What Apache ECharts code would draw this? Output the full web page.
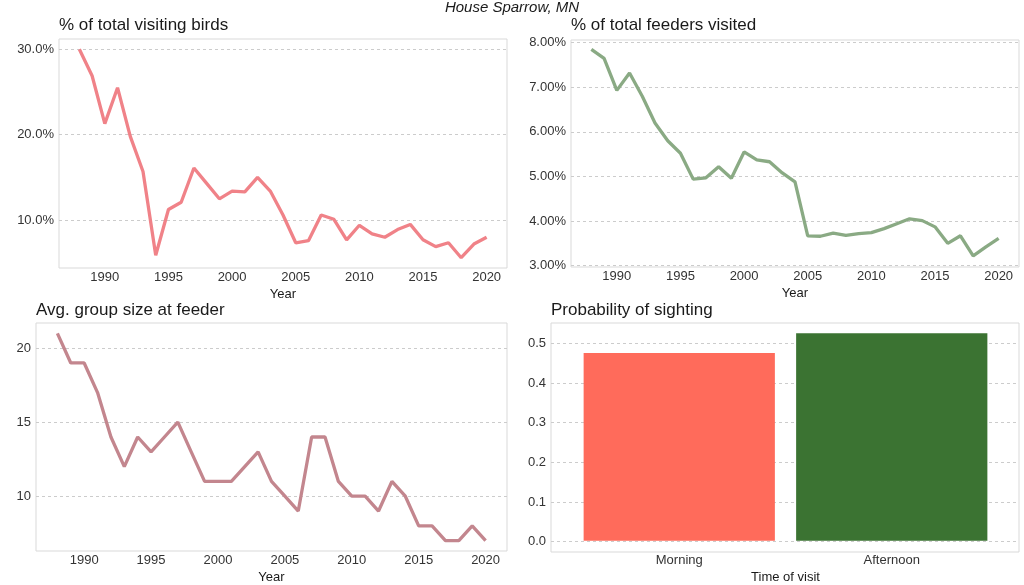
<!DOCTYPE html>
<html>
<head>
<meta charset="utf-8">
<script src="https://cdn.jsdelivr.net/npm/echarts@6/dist/echarts.min.js"></script>
<style>
  html, body { margin: 0; padding: 0; background: #fff; }
  #chart { width: 1024px; height: 585px; }
</style>
</head>
<body>
<div id="chart"></div>
<script>
// 年份
var years = [1988, 1989, 1990, 1991, 1992, 1993, 1994, 1995, 1996, 1997, 1998,
    1999, 2000, 2001, 2002, 2003, 2004, 2005, 2006, 2007, 2008, 2009, 2010,
    2011, 2012, 2013, 2014, 2015, 2016, 2017, 2018, 2019, 2020];
// % of total visiting birds
var pctBirds = [30.0, 26.9, 21.3, 25.5, 19.8, 15.7, 5.9, 11.25, 12.1, 16.1, 14.3,
    12.5, 13.4, 13.3, 15.0, 13.4, 10.6, 7.35, 7.6, 10.6, 10.1, 7.7, 9.4,
    8.4, 8.0, 8.9, 9.5, 7.7, 6.9, 7.35, 5.6, 7.2, 8.0];
// % of total feeders visited
var pctFeeders = [7.85, 7.65, 6.93, 7.32, 6.8, 6.2, 5.8, 5.52, 4.94, 4.97, 5.22,
    4.96, 5.55, 5.37, 5.33, 5.08, 4.88, 3.67, 3.66, 3.73, 3.68, 3.72, 3.74,
    3.83, 3.94, 4.05, 4.01, 3.87, 3.5, 3.67, 3.22, 3.42, 3.61];
// Avg. group size at feeder
var groupSize = [21, 19, 19, 17, 14, 12, 14, 13, 14, 15, 13,
    11, 11, 11, 12, 13, 11, 10, 9, 14, 14, 11, 10,
    10, 9, 11, 10, 8, 8, 7, 7, 8, 7];
// Probability of sighting
var visitTimes = ['Morning', 'Afternoon'];
var sightProb = [0.475, 0.525];
var barColors = ['#FF6B5B', '#3B7332'];

function pairs(vals) {
    var out = [];
    for (var i = 0; i < years.length; i++) {
        out.push([years[i], vals[i]]);
    }
    return out;
}

// 只显示整刻度的标签
function tickFmt(step, digits, suffix) {
    return function (v) {
        var k = v / step;
        if (Math.abs(k - Math.round(k)) > 1e-6) return '';
        return v.toFixed(digits) + (suffix || '');
    };
}

var fontFamily = 'Liberation Sans, Arial, sans-serif';
var labelStyle = { color: '#333', fontSize: 13, fontFamily: fontFamily };
var borderColor = '#D9D9D9';
var splitStyle = {
    show: true,
    showMinLine: false,
    showMaxLine: false,
    lineStyle: { color: '#CCCCCC', width: 1, type: [3, 3] }
};

function yearAxis(gridIndex) {
    return {
        type: 'value',
        gridIndex: gridIndex,
        min: 1986.4,
        max: 2021.6,
        splitNumber: 7,
        name: 'Year',
        nameLocation: 'middle',
        nameGap: 20,
        nameTextStyle: { color: '#1a1a1a', fontSize: 13, fontFamily: fontFamily },
        axisLine: { show: false },
        axisTick: { show: false },
        splitLine: { show: false },
        axisLabel: Object.assign({ margin: 3, formatter: tickFmt(5, 0) }, labelStyle)
    };
}

function valueAxis(gridIndex, min, max, splitNumber, fmt) {
    return {
        type: 'value',
        gridIndex: gridIndex,
        min: min,
        max: max,
        splitNumber: splitNumber,
        axisLine: { show: false },
        axisTick: { show: false },
        splitLine: splitStyle,
        axisLabel: Object.assign({ margin: 5, formatter: fmt }, labelStyle)
    };
}

function panelTitle(text, left, top) {
    return {
        text: text,
        left: left,
        top: top,
        padding: 0,
        textStyle: { color: '#1a1a1a', fontSize: 17, fontWeight: 'normal', fontFamily: fontFamily }
    };
}

function gridBox(left, top, width, height, show) {
    return {
        left: left, top: top, width: width, height: height,
        show: show, borderColor: borderColor, borderWidth: 1,
        backgroundColor: 'transparent'
    };
}

var chart = echarts.init(document.getElementById('chart'));
chart.setOption({
    animation: false,
    backgroundColor: '#fff',
    title: [
        {
            text: 'House Sparrow, MN',
            left: 'center',
            top: 0,
            padding: 0,
            textStyle: { color: '#1a1a1a', fontSize: 15, fontStyle: 'italic', fontWeight: 'normal', fontFamily: fontFamily }
        },
        panelTitle('% of total visiting birds', 59, 17),
        panelTitle('% of total feeders visited', 571, 17),
        panelTitle('Avg. group size at feeder', 36, 302),
        panelTitle('Probability of sighting', 551, 302)
    ],
    grid: [
        gridBox(59, 39, 448, 229, true),
        gridBox(571, 40, 448, 227, true),
        gridBox(36, 323, 471, 229, true),
        gridBox(551, 323, 468, 229, true),
        gridBox(573, 323, 425, 229, false)
    ],
    xAxis: [
        yearAxis(0),
        yearAxis(1),
        yearAxis(2),
        { type: 'value', gridIndex: 3, min: 0, max: 1, show: false },
        {
            type: 'category',
            gridIndex: 4,
            data: visitTimes,
            name: 'Time of visit',
            nameLocation: 'middle',
            nameGap: 20,
            nameTextStyle: { color: '#1a1a1a', fontSize: 13, fontFamily: fontFamily },
            axisLine: { show: false },
            axisTick: { show: false },
            splitLine: { show: false },
            axisLabel: Object.assign({ margin: 3 }, labelStyle)
        }
    ],
    yAxis: [
        valueAxis(0, 4.4, 31.2, 3, tickFmt(10, 1, '%')),
        valueAxis(1, 2.97, 8.06, 5, tickFmt(1, 2, '%')),
        valueAxis(2, 6.3, 21.7, 3, tickFmt(5, 0)),
        valueAxis(3, -0.026, 0.551, 6, tickFmt(0.1, 1)),
        { type: 'value', gridIndex: 4, min: -0.026, max: 0.551, show: false }
    ],
    series: [
        {
            type: 'line', xAxisIndex: 0, yAxisIndex: 0,
            data: pairs(pctBirds), showSymbol: false, silent: true,
            lineStyle: { color: '#F08288', width: 3.3 }
        },
        {
            type: 'line', xAxisIndex: 1, yAxisIndex: 1,
            data: pairs(pctFeeders), showSymbol: false, silent: true,
            lineStyle: { color: '#8AAA84', width: 3.3 }
        },
        {
            type: 'line', xAxisIndex: 2, yAxisIndex: 2,
            data: pairs(groupSize), showSymbol: false, silent: true,
            lineStyle: { color: '#C3868E', width: 3.3 }
        },
        {
            type: 'bar', xAxisIndex: 4, yAxisIndex: 4,
            barWidth: '90%', silent: true,
            data: sightProb.map(function (v, i) {
                return { value: v, itemStyle: { color: barColors[i] } };
            })
        }
    ]
});
</script>
</body>
</html>
